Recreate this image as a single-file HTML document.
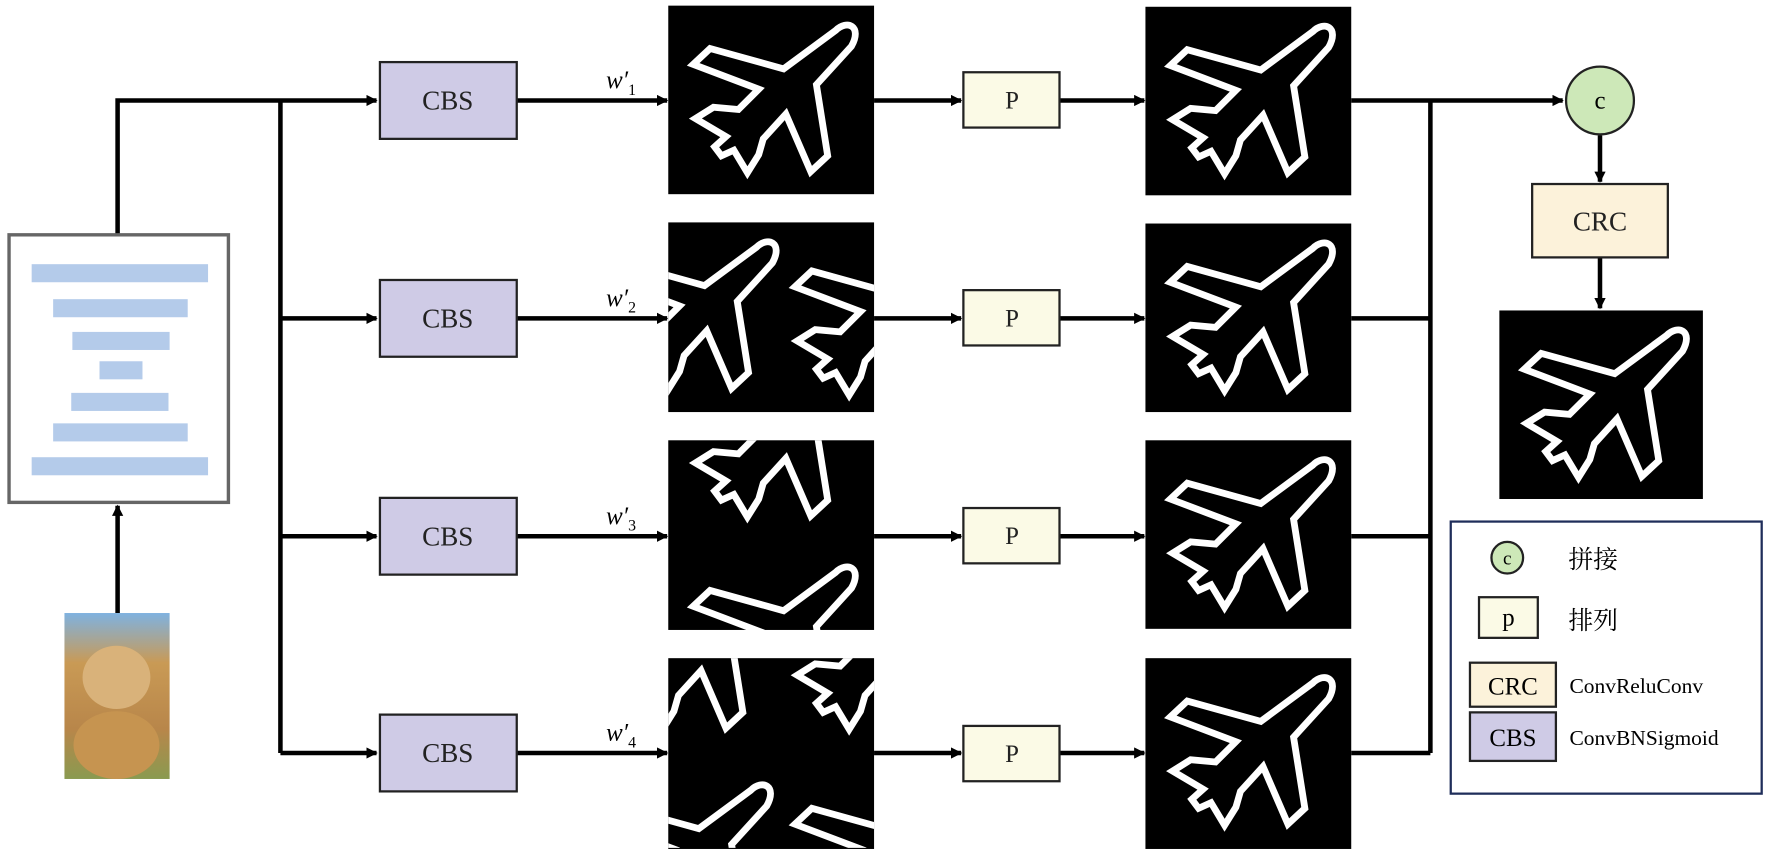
<!DOCTYPE html>
<html><head><meta charset="utf-8"><style>
html,body{margin:0;padding:0;background:#fff;overflow:hidden;width:1773px;height:858px;}
svg{display:block;}
text{font-family:"Liberation Serif","Noto Serif CJK SC",serif;}
</style></head><body>
<svg width="1773" height="858" viewBox="0 0 1568 760" preserveAspectRatio="none" xmlns="http://www.w3.org/2000/svg">
<defs>
<marker id="ar" markerWidth="10" markerHeight="10" refX="9" refY="5" orient="auto" markerUnits="userSpaceOnUse"><path d="M0,0 L10,5 L0,10 Z" fill="#000"/></marker>
<g id="plane"><path d="M148,22 C158,12 172,18 162,36 L131,70 L141,133 L126,147 L104,96 L84,118 L80,132 L70,148 L58,128 L47,133 L41,125 L51,116 L24,100 L40,90 L62,92 L80,74 L22,52 L37,38 L102,56 Z" fill="none" stroke="#fff" stroke-width="6" stroke-linejoin="miter"/></g>
<clipPath id="cl"><rect x="0" y="0" width="182" height="168"/></clipPath>
<linearGradient id="dog" x1="0" y1="0" x2="0" y2="1"><stop offset="0" stop-color="#7fb2e0"/><stop offset="0.3" stop-color="#c99a55"/><stop offset="0.7" stop-color="#b8864a"/><stop offset="1" stop-color="#8a9a50"/></linearGradient>
</defs>
<g stroke="#000" stroke-width="4" fill="none">
<path d="M104,208 V89 H333" marker-end="url(#ar)"/>
<path d="M248,89 V667"/>
<path d="M248,282 H333" marker-end="url(#ar)"/>
<path d="M248,475 H333" marker-end="url(#ar)"/>
<path d="M248,667 H333" marker-end="url(#ar)"/>
<path d="M104,543 V448" marker-end="url(#ar)"/>
<path d="M457,89 H590" marker-end="url(#ar)"/>
<path d="M457,282 H590" marker-end="url(#ar)"/>
<path d="M457,475 H590" marker-end="url(#ar)"/>
<path d="M457,667 H590" marker-end="url(#ar)"/>
<path d="M773,89 H850" marker-end="url(#ar)"/><path d="M937,89 H1012" marker-end="url(#ar)"/>
<path d="M773,282 H850" marker-end="url(#ar)"/><path d="M937,282 H1012" marker-end="url(#ar)"/>
<path d="M773,475 H850" marker-end="url(#ar)"/><path d="M937,475 H1012" marker-end="url(#ar)"/>
<path d="M773,667 H850" marker-end="url(#ar)"/><path d="M937,667 H1012" marker-end="url(#ar)"/>
<path d="M1195,89 H1382" marker-end="url(#ar)"/>
<path d="M1265,89 V667"/>
<path d="M1195,282 H1265 M1195,475 H1265 M1195,667 H1265"/>
<path d="M1415,120 V161" marker-end="url(#ar)"/>
<path d="M1415,228 V273" marker-end="url(#ar)"/>
</g>
<rect x="8" y="208" width="194" height="237" fill="#fff" stroke="#666" stroke-width="3"/>
<g fill="#b4cbea">
<rect x="28" y="234" width="156" height="16"/><rect x="47" y="265" width="119" height="16"/><rect x="64" y="294" width="86" height="16"/><rect x="88" y="320" width="38" height="16"/><rect x="63" y="348" width="86" height="16"/><rect x="47" y="375" width="119" height="16"/><rect x="28" y="405" width="156" height="16"/>
</g>
<rect x="57" y="543" width="93" height="147" fill="url(#dog)"/>
<ellipse cx="103" cy="600" rx="30" ry="28" fill="#d9b27a"/><ellipse cx="103" cy="660" rx="38" ry="30" fill="#c69450"/>
<g fill="#cfcbe6" stroke="#222" stroke-width="2">
<rect x="336" y="55" width="121" height="68"/><rect x="336" y="248" width="121" height="68"/><rect x="336" y="441" width="121" height="68"/><rect x="336" y="633" width="121" height="68"/>
</g>
<g font-size="24" text-anchor="middle" fill="#222">
<text x="396" y="97">CBS</text><text x="396" y="290">CBS</text><text x="396" y="483">CBS</text><text x="396" y="675">CBS</text>
</g>
<g font-size="22" font-style="italic" fill="#000">
<text x="536" y="78">w′<tspan font-size="14" dy="6" font-style="normal">1</tspan></text>
<text x="536" y="271">w′<tspan font-size="14" dy="6" font-style="normal">2</tspan></text>
<text x="536" y="464">w′<tspan font-size="14" dy="6" font-style="normal">3</tspan></text>
<text x="536" y="656">w′<tspan font-size="14" dy="6" font-style="normal">4</tspan></text>
</g>
<g transform="translate(591,5)"><rect width="182" height="167" fill="#000"/><use href="#plane"/></g>
<g transform="translate(591,197)"><rect width="182" height="168" fill="#000"/><g clip-path="url(#cl)"><use href="#plane" transform="translate(-70,0)"/><use href="#plane" transform="translate(90,5)"/></g></g>
<g transform="translate(591,390)"><rect width="182" height="168" fill="#000"/><g clip-path="url(#cl)"><use href="#plane" transform="translate(0,-80)"/><use href="#plane" transform="translate(0,95)"/></g></g>
<g transform="translate(591,583)"><rect width="182" height="169" fill="#000"/><g clip-path="url(#cl)"><use href="#plane" transform="translate(-75,-85)"/><use href="#plane" transform="translate(90,-85)"/><use href="#plane" transform="translate(-75,95)"/><use href="#plane" transform="translate(90,95)"/></g></g>
<g fill="#fbfae6" stroke="#222" stroke-width="2">
<rect x="852" y="64" width="85" height="49"/><rect x="852" y="257" width="85" height="49"/><rect x="852" y="450" width="85" height="49"/><rect x="852" y="643" width="85" height="49"/>
</g>
<g font-size="22" text-anchor="middle" fill="#222">
<text x="895" y="96">P</text><text x="895" y="289">P</text><text x="895" y="482">P</text><text x="895" y="675">P</text>
</g>
<g transform="translate(1013,6)"><rect width="182" height="167" fill="#000"/><use href="#plane"/></g>
<g transform="translate(1013,198)"><rect width="182" height="167" fill="#000"/><use href="#plane"/></g>
<g transform="translate(1013,390)"><rect width="182" height="167" fill="#000"/><use href="#plane"/></g>
<g transform="translate(1013,583)"><rect width="182" height="169" fill="#000"/><use href="#plane"/></g>
<circle cx="1415" cy="89" r="30" fill="#cde8b8" stroke="#222" stroke-width="2"/>
<text x="1415" y="96" font-size="22" text-anchor="middle">c</text>
<rect x="1355" y="163" width="120" height="65" fill="#fcf2da" stroke="#222" stroke-width="2"/>
<text x="1415" y="204" font-size="24" text-anchor="middle" fill="#222">CRC</text>
<g transform="translate(1326,275)"><rect width="180" height="167" fill="#000"/><use href="#plane"/></g>
<rect x="1283" y="462" width="275" height="241" fill="#fff" stroke="#1f2d5a" stroke-width="2"/>
<circle cx="1333" cy="494" r="14" fill="#cde8b8" stroke="#222" stroke-width="2"/>
<text x="1333" y="500" font-size="17" text-anchor="middle">c</text>
<text x="1387" y="503" font-size="22">拼接</text>
<rect x="1308" y="529" width="52" height="36" fill="#fbfae6" stroke="#222" stroke-width="2"/>
<text x="1334" y="554" font-size="22" text-anchor="middle">p</text>
<text x="1387" y="557" font-size="22">排列</text>
<rect x="1300" y="587" width="76" height="39" fill="#fcf2da" stroke="#222" stroke-width="2"/>
<text x="1338" y="615" font-size="22" text-anchor="middle">CRC</text>
<text x="1388" y="614" font-size="19">ConvReluConv</text>
<rect x="1300" y="631" width="76" height="43" fill="#cfcbe6" stroke="#222" stroke-width="2"/>
<text x="1338" y="661" font-size="22" text-anchor="middle">CBS</text>
<text x="1388" y="660" font-size="19">ConvBNSigmoid</text>
</svg>
</body></html>
